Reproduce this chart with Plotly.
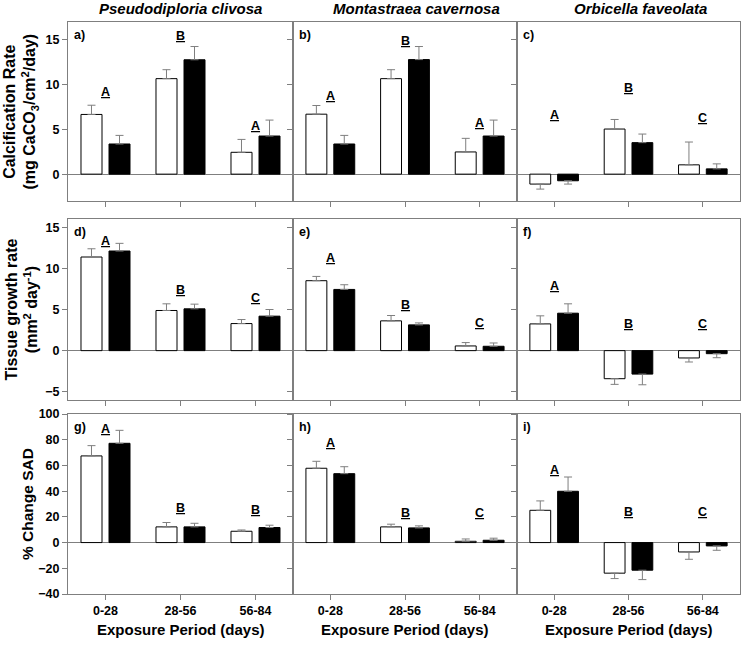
import plotly.graph_objects as go

# ---------------- data ----------------
categories = ["0-28", "28-56", "56-84"]

species = ["Pseudodiploria clivosa", "Montastraea cavernosa", "Orbicella faveolata"]
panel_tags = ["a)", "b)", "c)", "d)", "e)", "f)", "g)", "h)", "i)"]

# Row 1: Calcification rate (mg CaCO3/cm2/day)
a_open = [6.67, 10.67, 2.44]
a_open_err = [1.03, 1.00, 1.44]
a_filled = [3.37, 12.78, 4.26]
a_filled_err = [0.96, 1.48, 1.78]
a_letters = ["A", "B", "A"]
a_letter_y = [9.2, 15.4, 5.4]

b_open = [6.70, 10.67, 2.48]
b_open_err = [0.97, 1.00, 1.52]
b_filled = [3.37, 12.80, 4.26]
b_filled_err = [0.96, 1.46, 1.78]
b_letters = ["A", "B", "A"]
b_letter_y = [8.7, 14.9, 5.7]

c_open = [-1.11, 5.04, 1.04]
c_open_err = [0.56, 1.07, 2.55]
c_filled = [-0.74, 3.52, 0.59]
c_filled_err = [0.37, 0.96, 0.56]
c_letters = ["A", "B", "C"]
c_letter_y = [6.6, 9.6, 6.3]

# Row 2: Tissue growth rate (mm2 day-1)
d_open = [11.38, 4.88, 3.29]
d_open_err = [1.00, 0.81, 0.49]
d_filled = [12.11, 5.08, 4.19]
d_filled_err = [0.93, 0.57, 0.81]
d_letters = ["A", "B", "C"]
d_letter_y = [13.3, 7.4, 6.4]

e_open = [8.50, 3.62, 0.57]
e_open_err = [0.52, 0.65, 0.41]
e_filled = [7.44, 3.13, 0.53]
e_filled_err = [0.57, 0.24, 0.40]
e_letters = ["A", "B", "C"]
e_letter_y = [11.3, 5.5, 3.4]

f_open = [3.25, -3.41, -0.89]
f_open_err = [0.98, 0.69, 0.49]
f_filled = [4.55, -2.85, -0.37]
f_filled_err = [1.14, 1.30, 0.49]
f_letters = ["A", "B", "C"]
f_letter_y = [7.85, 3.25, 3.25]

# Row 3: % Change SAD
g_open = [67.4, 12.2, 8.8]
g_open_err = [8.0, 3.4, 1.0]
g_filled = [77.2, 12.2, 11.7]
g_filled_err = [10.1, 2.8, 1.8]
g_letters = ["A", "B", "B"]
g_letter_y = [88.0, 26.7, 25.4]

h_open = [57.8, 12.2, 1.0]
h_open_err = [5.4, 2.1, 1.8]
h_filled = [53.6, 11.4, 1.8]
h_filled_err = [5.4, 1.6, 1.6]
h_letters = ["A", "B", "C"]
h_letter_y = [77.7, 23.3, 23.3]

i_open = [25.1, -23.8, -7.3]
i_open_err = [7.3, 4.2, 5.7]
i_filled = [39.9, -21.5, -2.6]
i_filled_err = [11.1, 7.3, 3.4]
i_letters = ["A", "B", "C"]
i_letter_y = [56.5, 24.1, 24.1]

row_titles = [
    "Calcification Rate<br>(mg CaCO<sub>3</sub>/cm<sup>2</sup>/day)",
    "Tissue growth rate<br>(mm<sup>2</sup> day<sup>-1</sup>)",
    "% Change SAD",
]
x_title = "Exposure Period (days)"

row_ranges = [[-3, 17], [-6, 16], [-40, 100]]
row_dticks = [5, 5, 20]

panels = [
    (a_open, a_open_err, a_filled, a_filled_err, a_letters, a_letter_y),
    (b_open, b_open_err, b_filled, b_filled_err, b_letters, b_letter_y),
    (c_open, c_open_err, c_filled, c_filled_err, c_letters, c_letter_y),
    (d_open, d_open_err, d_filled, d_filled_err, d_letters, d_letter_y),
    (e_open, e_open_err, e_filled, e_filled_err, e_letters, e_letter_y),
    (f_open, f_open_err, f_filled, f_filled_err, f_letters, f_letter_y),
    (g_open, g_open_err, g_filled, g_filled_err, g_letters, g_letter_y),
    (h_open, h_open_err, h_filled, h_filled_err, h_letters, h_letter_y),
    (i_open, i_open_err, i_filled, i_filled_err, i_letters, i_letter_y),
]

# ---------------- layout geometry (pixels) ----------------
W, H = 750, 648
col_px = [(68, 293), (293, 517), (517, 740)]
row_px = [(22, 201), (219, 400), (414, 594)]

FONT = "Arial, 'Liberation Sans', sans-serif"
AXC = "#7f7f7f"


def xdom(c):
    return [col_px[c][0] / W, col_px[c][1] / W]


def ydom(r):
    return [1 - row_px[r][1] / H, 1 - row_px[r][0] / H]


def err_arrays(vals, errs):
    up = [e if v >= 0 else 0 for v, e in zip(vals, errs)]
    down = [e if v < 0 else 0 for v, e in zip(vals, errs)]
    return up, down


fig = go.Figure()
annotations = []
layout_axes = {}

for idx, (op, ope, fi, fie, letters, ly) in enumerate(panels):
    r, c = divmod(idx, 3)
    k = idx + 1
    xa = "x" if k == 1 else f"x{k}"
    ya = "y" if k == 1 else f"y{k}"

    for vals, errs, fill in [(op, ope, "white"), (fi, fie, "black")]:
        up, down = err_arrays(vals, errs)
        fig.add_trace(go.Bar(
            x=categories, y=vals, xaxis=xa, yaxis=ya,
            marker=dict(color=fill, line=dict(color="black", width=1)),
            error_y=dict(type="data", symmetric=False, array=up, arrayminus=down,
                         color=AXC, thickness=1, width=4),
            offsetgroup=fill, showlegend=False,
        ))

    xkey = "xaxis" if k == 1 else f"xaxis{k}"
    ykey = "yaxis" if k == 1 else f"yaxis{k}"
    layout_axes[xkey] = dict(
        domain=xdom(c), anchor=ya, type="category", range=[-0.5, 2.5],
        showline=True, linecolor=AXC, linewidth=1, mirror=True,
        ticks="outside", ticklen=5, tickcolor=AXC,
        showticklabels=(r == 2), showgrid=False, zeroline=False,
        tickfont=dict(family=FONT, size=12.5, color="black", weight="bold"),
    )
    layout_axes[ykey] = dict(
        domain=ydom(r), anchor=xa, range=row_ranges[r], dtick=row_dticks[r],
        tick0=0, showline=True, linecolor=AXC, linewidth=1, mirror=True,
        ticks="outside", ticklen=5, tickcolor=AXC,
        showticklabels=(c == 0), showgrid=False,
        zeroline=True, zerolinecolor=AXC, zerolinewidth=1,
        tickfont=dict(family=FONT, size=12.5, color="black", weight="bold"),
    )

    # significance letters
    for cat, lt, yv in zip(categories, letters, ly):
        annotations.append(dict(
            x=cat, y=yv, xref=xa, yref=ya, text=f"<b><u>{lt}</u></b>",
            showarrow=False, font=dict(family=FONT, size=12.5, color="black"),
            xanchor="center", yanchor="middle",
        ))

    # panel tag
    annotations.append(dict(
        x=(col_px[c][0] + 4) / W, y=1 - (row_px[r][0] + 4) / H,
        xref="paper", yref="paper", text=f"<b>{panel_tags[idx]}</b>",
        showarrow=False, font=dict(family=FONT, size=12.5, color="black"),
        xanchor="left", yanchor="top",
    ))

# species titles
title_centers = [180, 416, 640]
for c, sp in enumerate(species):
    annotations.append(dict(
        x=title_centers[c] / W, y=1 - 9 / H, xref="paper", yref="paper",
        text=f"<b><i>{sp}</i></b>", showarrow=False,
        font=dict(family=FONT, size=15, color="black"),
        xanchor="center", yanchor="middle",
    ))

# x titles
for c in range(3):
    annotations.append(dict(
        x=(col_px[c][0] + col_px[c][1]) / 2 / W, y=1 - 629 / H,
        xref="paper", yref="paper", text=f"<b>{x_title}</b>", showarrow=False,
        font=dict(family=FONT, size=15, color="black"),
        xanchor="center", yanchor="middle",
    ))

# y titles
ytitle_x = [21, 21, 27]
ytitle_size = [16, 16, 15.5]
for r in range(3):
    annotations.append(dict(
        x=ytitle_x[r] / W, y=1 - ((row_px[r][0] + row_px[r][1]) / 2) / H,
        xref="paper", yref="paper", text=f"<b>{row_titles[r]}</b>",
        showarrow=False, textangle=-90,
        font=dict(family=FONT, size=ytitle_size[r], color="black"),
        xanchor="center", yanchor="middle",
    ))

fig.update_layout(
    width=W, height=H, margin=dict(l=0, r=0, t=0, b=0, autoexpand=False),
    paper_bgcolor="white", plot_bgcolor="white",
    barmode="group", bargap=0.253, bargroupgap=0.25,
    annotations=annotations, showlegend=False, hovermode=False,
    **layout_axes,
)

fig.write_html(
    "out.html",
    config={"displayModeBar": False},
    post_script="document.body.style.margin='0';document.body.style.overflow='hidden';",
)
